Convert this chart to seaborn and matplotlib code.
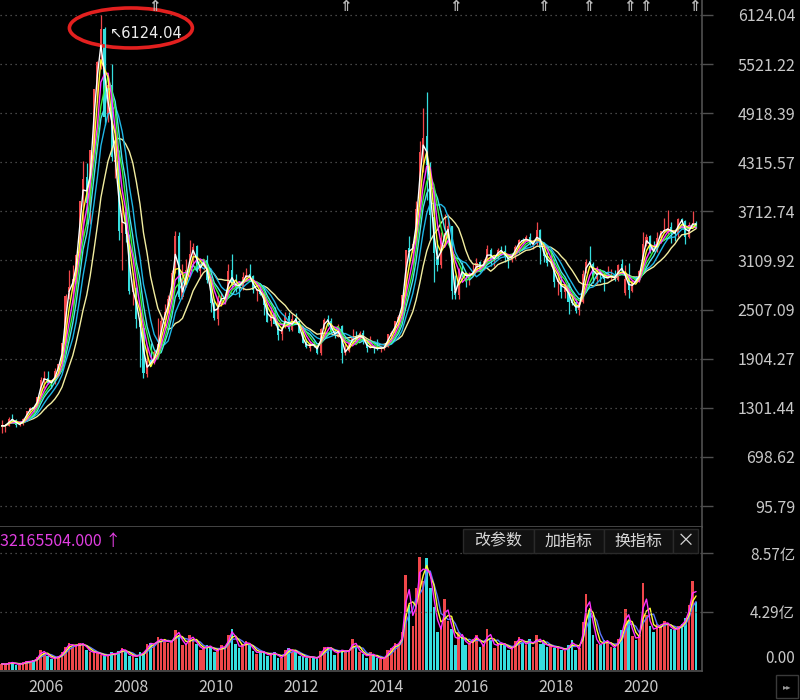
"""
Weekly-style index K-line chart (Shanghai Composite look), dark trading-terminal theme.
Monthly OHLC + volume read off the reference picture; MAs computed with pandas rolling.
Output: out.png (800x700)
"""

import numpy as np
import pandas as pd
import matplotlib
matplotlib.use("Agg")
import matplotlib.pyplot as plt
import matplotlib.dates as mdates
import matplotlib.transforms as mtransforms
from matplotlib.patches import Ellipse, Rectangle
import seaborn as sns

# ── Data (one value per month, Jun 2005 .. Oct 2021) ─────────────────────────

MONTHS = pd.date_range("2005-06-01", "2021-10-01", freq="MS") + pd.Timedelta(days=14)

OPEN = [
    1060, 1081, 1083, 1162, 1155, 1093, 1100,
    1163, 1258, 1299, 1299, 1442, 1647, 1673, 1611, 1601, 1752, 1840, 2105,
    2728, 2790, 2869, 3196, 3860, 4129, 3810, 4472, 5217, 5684, 5954, 4868,
    5265, 4320, 4330, 3446, 3702, 3413, 2717, 2770, 2401, 2277, 1719, 1888,
    1849, 1990, 2073, 2376, 2467, 2635, 2962, 3413, 2658, 2786, 3000, 3198,
    3289, 2986, 3060, 3116, 2857, 2586, 2395, 2637, 2639, 2662, 2990, 2822,
    2825, 2786, 2905, 2941, 2916, 2741, 2762, 2707, 2567, 2363, 2470, 2326,
    2212, 2292, 2434, 2260, 2401, 2369, 2226, 2108, 2038, 2090, 2070, 1971,
    2289, 2386, 2371, 2239, 2172, 2302, 1977, 1993, 2103, 2176, 2139, 2214,
    2112, 2035, 2057, 2031, 2027, 2036, 2048, 2202, 2218, 2358, 2425, 2685,
    3258, 3207, 3322, 3764, 4482, 4633, 4214, 3643, 3157, 3056, 3379, 3450,
    3536, 2730, 2688, 3001, 2945, 2917, 2925, 2980, 3086, 2993, 3105, 3244,
    3105, 3159, 3236, 3226, 3146, 3113, 3193, 3272, 3362, 3362, 3396, 3304,
    3315, 3479, 3261, 3164, 3086, 3086, 2842, 2871, 2721, 2811, 2595, 2602,
    2497, 2596, 2954, 3104, 3071, 2888, 2994, 2924, 2894, 2905, 2932, 2871,
    3067, 2716, 2899, 2734, 2878, 2848, 2991, 3312, 3411, 3258, 3234, 3388,
    3474, 3483, 3518, 3453, 3448, 3614, 3591, 3400, 3555, 3572,
]
HIGH = [
    1146, 1102, 1185, 1223, 1161, 1111, 1180,
    1259, 1307, 1312, 1440, 1678, 1758, 1757, 1630, 1785, 1841, 2100, 2698,
    2995, 3049, 3190, 3842, 4335, 4312, 4472, 5218, 5560, 6124.04, 5976, 5307,
    5522, 4696, 4472, 3786, 3786, 3431, 2952, 2786, 2434, 2333, 2064, 2100,
    2010, 2402, 2412, 2579, 2689, 2997, 3478, 3454, 3068, 3123, 3361, 3330,
    3306, 3085, 3128, 3181, 2892, 2634, 2681, 2706, 2702, 3073, 3186, 2938,
    2857, 2966, 3012, 3067, 2935, 2765, 2826, 2715, 2574, 2536, 2536, 2338,
    2300, 2478, 2478, 2453, 2461, 2374, 2248, 2147, 2122, 2123, 2078, 2276,
    2398, 2444, 2399, 2280, 2334, 2320, 2092, 2149, 2270, 2243, 2245, 2260,
    2115, 2177, 2075, 2147, 2062, 2074, 2209, 2248, 2366, 2437, 2688, 3239,
    3406, 3335, 3835, 4572, 4986, 5178, 4318, 4006, 3358, 3459, 3678, 3684,
    3539, 2933, 3018, 3097, 2953, 2970, 3070, 3140, 3101, 3134, 3301, 3264,
    3174, 3260, 3284, 3295, 3154, 3200, 3297, 3370, 3392, 3420, 3451, 3316,
    3587, 3495, 3334, 3220, 3219, 3127, 2916, 2915, 2827, 2838, 2703, 2646,
    2618, 2997, 3129, 3288, 3092, 3045, 3002, 2939, 3042, 3000, 2989, 3063,
    3128, 3059, 3074, 2862, 2914, 2990, 3458, 3433, 3425, 3349, 3456, 3474,
    3637, 3732, 3586, 3482, 3626, 3636, 3612, 3586, 3723, 3595,
]
LOW = [
    998, 1004, 1080, 1136, 1067, 1074, 1089,
    1160, 1236, 1254, 1298, 1434, 1541, 1591, 1542, 1598, 1750, 1831, 2094,
    2640, 2541, 2822, 3181, 3404, 3564, 3563, 4457, 5053, 5462, 4778, 4812,
    4330, 4123, 3357, 2990, 3333, 2693, 2566, 2284, 1802, 1664, 1678, 1814,
    1844, 1988, 2037, 2375, 2462, 2635, 2962, 2639, 2639, 2780, 2995, 3039,
    2963, 2890, 2997, 2835, 2481, 2382, 2319, 2549, 2573, 2658, 2767, 2721,
    2661, 2750, 2872, 2885, 2705, 2610, 2686, 2437, 2356, 2307, 2319, 2133,
    2132, 2284, 2242, 2243, 2333, 2220, 2100, 2040, 1999, 2050, 1959, 1949,
    2264, 2300, 2218, 2162, 2166, 1849, 1951, 1990, 2082, 2131, 2121, 2087,
    1984, 2030, 1974, 2014, 1991, 2010, 2042, 2180, 2209, 2296, 2407, 2673,
    3050, 3050, 3285, 3742, 4199, 3847, 3373, 2851, 2983, 3012, 3327, 3392,
    2638, 2639, 2639, 2910, 2781, 2808, 2920, 2970, 2969, 2988, 3082, 3045,
    3044, 3128, 3176, 3097, 3017, 3092, 3132, 3200, 3319, 3355, 3299, 3254,
    3305, 3063, 3091, 3041, 3041, 2782, 2691, 2653, 2644, 2449, 2561, 2463,
    2440, 2584, 2953, 3042, 2838, 2822, 2844, 2733, 2891, 2875, 2857, 2857,
    2956, 2685, 2647, 2720, 2834, 2847, 2990, 3283, 3203, 3229, 3209, 3325,
    3465, 3423, 3328, 3355, 3403, 3546, 3313, 3388, 3545, 3512,
]
CLOSE = [
    1081, 1083, 1162, 1155, 1093, 1100, 1161,
    1258, 1299, 1298, 1440, 1641, 1672, 1612, 1601, 1752, 1837, 2099, 2675,
    2786, 2881, 3183, 3841, 4109, 3820, 4471, 5218, 5552, 5954, 4871, 5262,
    4383, 4348, 3473, 3693, 3433, 2736, 2775, 2397, 2293, 1729, 1871, 1821,
    1991, 2082, 2373, 2477, 2633, 2959, 3412, 2667, 2779, 2996, 3195, 3277,
    2989, 3051, 3110, 2871, 2592, 2398, 2638, 2639, 2656, 2979, 2820, 2808,
    2791, 2905, 2928, 2911, 2743, 2762, 2701, 2568, 2359, 2468, 2333, 2199,
    2292, 2428, 2263, 2396, 2373, 2225, 2103, 2047, 2086, 2069, 1980, 2269,
    2385, 2365, 2237, 2177, 2301, 1979, 1994, 2098, 2175, 2141, 2220, 2116,
    2033, 2056, 2033, 2026, 2039, 2048, 2202, 2217, 2364, 2420, 2683, 3235,
    3210, 3310, 3748, 4442, 4612, 4277, 3664, 3206, 3053, 3383, 3445, 3539,
    2738, 2688, 3004, 2938, 2917, 2930, 2979, 3085, 3005, 3100, 3250, 3104,
    3159, 3242, 3223, 3155, 3117, 3192, 3273, 3361, 3349, 3393, 3317, 3307,
    3481, 3259, 3169, 3082, 3095, 2847, 2876, 2725, 2821, 2603, 2588, 2494,
    2585, 2941, 3091, 3078, 2899, 2979, 2933, 2886, 2905, 2929, 2872, 3050,
    2977, 2880, 2750, 2860, 2852, 2985, 3310, 3396, 3218, 3225, 3392, 3473,
    3483, 3509, 3442, 3447, 3615, 3591, 3397, 3544, 3568, 3547,
]
# volume, in 亿 (1e8)
VOLUME = [
    0.45, 0.40, 0.55, 0.55, 0.40, 0.40, 0.55,
    0.65, 0.60, 0.70, 0.95, 1.45, 1.25, 1.00, 0.80, 0.90, 1.00, 1.30, 1.70,
    2.00, 1.70, 1.80, 1.95, 1.90, 1.50, 1.30, 1.30, 1.25, 1.10, 1.00, 1.10,
    1.30, 1.10, 1.40, 1.60, 1.30, 1.00, 1.10, 0.90, 1.30, 1.20, 1.90, 2.00,
    1.80, 2.40, 2.10, 2.20, 2.00, 2.10, 2.90, 2.60, 1.80, 1.90, 2.60, 2.20,
    1.90, 1.50, 1.60, 1.80, 1.70, 1.30, 1.50, 1.80, 1.60, 2.60, 3.00, 1.90,
    1.60, 1.90, 2.10, 1.80, 1.40, 1.20, 1.40, 1.30, 1.00, 1.20, 1.30, 0.90,
    0.90, 1.50, 1.60, 1.30, 1.40, 1.00, 1.00, 0.90, 1.00, 0.90, 0.80, 1.40,
    1.70, 1.60, 1.60, 1.10, 1.40, 1.50, 1.30, 1.40, 2.30, 1.60, 1.30, 1.20,
    0.90, 1.30, 1.00, 0.90, 0.80, 0.90, 1.50, 1.60, 2.00, 1.80, 2.80, 7.00,
    4.80, 3.20, 6.00, 8.30, 6.50, 8.20, 6.00, 4.60, 2.80, 3.20, 5.20, 3.60,
    3.00, 1.80, 2.80, 2.40, 1.80, 2.00, 2.30, 2.60, 1.70, 1.80, 3.00, 2.20,
    1.60, 2.00, 2.00, 1.80, 1.50, 1.60, 2.10, 2.40, 2.00, 1.80, 2.30, 1.70,
    2.60, 1.90, 2.00, 1.70, 1.80, 1.60, 1.70, 1.50, 1.40, 1.80, 2.20, 1.50,
    1.60, 3.50, 5.60, 4.40, 2.60, 1.90, 1.80, 2.20, 2.10, 1.70, 1.60, 2.30,
    2.90, 4.50, 3.60, 2.50, 2.20, 2.60, 6.40, 4.00, 3.20, 2.80, 3.40, 3.20,
    3.60, 3.30, 3.00, 2.90, 3.20, 3.40, 3.80, 4.80, 6.50, 5.00,
]

PRICE_TICKS = [95.79, 698.62, 1301.44, 1904.27, 2507.09, 3109.92,
               3712.74, 4315.57, 4918.39, 5521.22, 6124.04]
VOL_TICKS = [0.0, 4.29, 8.57]
VOL_LABELS = ["0.00", "4.29亿", "8.57亿"]
YEAR_TICKS = ["2006", "2008", "2010", "2012", "2014", "2016", "2018", "2020"]
EVENT_DATES = ["2009-01-20", "2013-07-15", "2016-02-15", "2018-03-10",
               "2019-04-01", "2020-03-25", "2020-08-05", "2021-10-05"]
LAST_VOL_TEXT = "32165504.000 ↑"
BUTTONS = ["改参数", "加指标", "换指标", "×"]

# ── Style ────────────────────────────────────────────────────────────────────

RED, CYAN = "#f0474a", "#35dede"
PRICE_MA = [  # (window in months, colour) - long first so short ones sit on top
    (12, "#f3eea0"), (8, "#1fb6e6"), (6, "#48e3ef"),
    (5, "#3cf03c"), (4, "#ff38ff"), (3, "#ffff30"), (2, "#ffffff"),
]
VOL_MA = [(4, "#5b74ff"), (3, "#ffff30"), (2, "#ff30ff")]
TEXT_C = "#c8c8c8"
LINE_C = "#505050"
GRID_KW = dict(color="#5c5c5c", linestyle=(0, (1, 3)), linewidth=0.9)

W, H = 800, 700


def px_box(x0, y0, x1, y1):
    """pixel box (top-left origin) -> figure fraction rect"""
    return [x0 / W, 1 - y1 / H, (x1 - x0) / W, (y1 - y0) / H]


def main():
    sns.set_theme(style="dark", rc={
        "axes.facecolor": "black", "figure.facecolor": "black",
        "savefig.facecolor": "black", "axes.edgecolor": LINE_C,
    })
    plt.rcParams["font.family"] = ["Noto Sans CJK SC", "DejaVu Sans"]

    df = pd.DataFrame({"date": MONTHS, "open": OPEN, "high": HIGH,
                       "low": LOW, "close": CLOSE, "vol": VOLUME})
    up = df["close"] >= df["open"]
    colors = np.where(up, RED, CYAN)

    fig = plt.figure(figsize=(W / 100, H / 100), dpi=100)
    ax = fig.add_axes(px_box(0, 0, 702, 527))
    axv = fig.add_axes(px_box(0, 527, 702, 671))
    xmin, xmax = pd.Timestamp("2005-05-31"), pd.Timestamp("2021-12-05")

    # ── price panel ──
    ax.vlines(df["date"], df["low"], df["high"], colors=colors, lw=0.9)
    body = (df["close"] - df["open"]).abs().clip(lower=10)
    ax.bar(df["date"], body, bottom=df[["open", "close"]].min(axis=1),
           width=18, color=colors, linewidth=0)
    for w, c in PRICE_MA:
        df[f"ma{w}"] = df["close"].rolling(w, min_periods=1).mean()
        sns.lineplot(data=df, x="date", y=f"ma{w}", color=c, lw=1.0, ax=ax)

    ax.set_xlim(xmin, xmax)
    ax.set_ylim(-162, 6308)
    ax.set_xlabel("")
    ax.set_ylabel("")
    ax.set_xticks([])
    ax.set_yticks(PRICE_TICKS)
    ax.set_yticklabels([f"{v:.2f}" for v in PRICE_TICKS])
    ax.yaxis.tick_right()
    ax.tick_params(axis="y", colors=LINE_C, labelcolor=TEXT_C, length=8,
                   width=1, labelsize=11.5, pad=59)
    for lbl in ax.get_yticklabels():
        lbl.set_ha("right")
    ax.grid(False)
    ax.grid(axis="y", **GRID_KW)
    for side in ("left", "top"):
        ax.spines[side].set_visible(False)
    for side in ("right", "bottom"):
        ax.spines[side].set_color(LINE_C)
        ax.spines[side].set_linewidth(1.2)

    # top-of-chart event markers
    top_trans = mtransforms.blended_transform_factory(ax.transData, ax.transAxes)
    for d in EVENT_DATES:
        ax.text(pd.Timestamp(d), 1.002, "⇑", transform=top_trans, ha="center",
                va="top", color="#b8b8b8", fontsize=11, fontweight="bold",
                family="DejaVu Sans")

    # highest-point annotation with red ring
    i_max = int(np.argmax(HIGH))
    peak_x = mdates.date2num(MONTHS[i_max])
    peak_y = HIGH[i_max]
    ax.annotate(f"↖{peak_y:.2f}", xy=(MONTHS[i_max], peak_y), xytext=(6.5, -13),
                textcoords="offset points", ha="left", va="center",
                color="#ececec", fontsize=10.5,
                family=["DejaVu Sans"])
    ring = Ellipse((0.30, -0.13), width=1.23, height=0.40, fill=False,
                   edgecolor="#e3201f", lw=2.6, clip_on=False,
                   transform=fig.dpi_scale_trans
                   + mtransforms.ScaledTranslation(peak_x, peak_y, ax.transData))
    ax.add_patch(ring)

    # ── volume panel ──
    axv.bar(df["date"], df["vol"], width=22, color=colors, linewidth=0)
    for w, c in VOL_MA:
        df[f"vma{w}"] = df["vol"].rolling(w, min_periods=1).mean()
        sns.lineplot(data=df, x="date", y=f"vma{w}", color=c, lw=1.0, ax=axv)
    axv.set_xlim(xmin, xmax)
    axv.set_ylim(-0.074, 10.49)
    axv.set_xlabel("")
    axv.set_ylabel("")
    axv.grid(False)
    for v in VOL_TICKS[1:]:
        axv.axhline(v, **GRID_KW)
    axv.set_yticks(VOL_TICKS)
    axv.set_yticklabels(VOL_LABELS)
    axv.yaxis.tick_right()
    axv.tick_params(axis="y", colors=LINE_C, labelcolor=TEXT_C, length=8,
                    width=1, labelsize=11, pad=59)
    for v, lbl in zip(VOL_TICKS, axv.get_yticklabels()):
        lbl.set_ha("right")
        if v == 0:
            lbl.set_transform(lbl.get_transform()
                              + mtransforms.ScaledTranslation(0, 0.13, fig.dpi_scale_trans))
    axv.yaxis.get_major_ticks()[0].tick2line.set_visible(False)

    axv.set_xticks([pd.Timestamp(f"{y}-01-01") for y in YEAR_TICKS])
    axv.set_xticklabels(YEAR_TICKS)
    axv.tick_params(axis="x", colors="#3a3a3a", labelcolor=TEXT_C, length=20,
                    width=1, labelsize=11.5, pad=-14.5)
    for lbl in axv.get_xticklabels():
        lbl.set_ha("left")
        lbl.set_transform(lbl.get_transform()
                          + mtransforms.ScaledTranslation(0.035, 0, fig.dpi_scale_trans))
    axv.spines["left"].set_visible(False)
    axv.spines["top"].set_visible(False)
    for side in ("right", "bottom"):
        axv.spines[side].set_color(LINE_C)
        axv.spines[side].set_linewidth(1.2)

    axv.text(0.0, 0.896, LAST_VOL_TEXT, transform=axv.transAxes,
             color="#e03ee0", fontsize=11.5, ha="left", va="center")

    # indicator buttons
    edges = [463, 534, 604, 673, 698]
    for name, x0, x1 in zip(BUTTONS, edges[:-1], edges[1:]):
        r = px_box(x0, 529, x1, 553)
        fig.add_artist(Rectangle((r[0], r[1]), r[2], r[3], transform=fig.transFigure,
                                 facecolor="#111111", edgecolor="#2a2a2a", lw=1))
        fig.text(r[0] + r[2] / 2, r[1] + r[3] / 2, name, color="#d6d6d6",
                 fontsize=11.5 if name != "×" else 13, ha="center", va="center")

    # scroll button bottom right
    r = px_box(776, 675, 798, 698)
    fig.add_artist(Rectangle((r[0], r[1]), r[2], r[3], transform=fig.transFigure,
                             facecolor="black", edgecolor="#3a3a3a", lw=1))
    fig.text(r[0] + r[2] / 2, r[1] + r[3] / 2, "▸▸", color="#9a9a9a",
             fontsize=6, ha="center", va="center", family="DejaVu Sans")

    fig.savefig("out.png", dpi=100, facecolor="black")
    plt.close(fig)


if __name__ == "__main__":
    main()
